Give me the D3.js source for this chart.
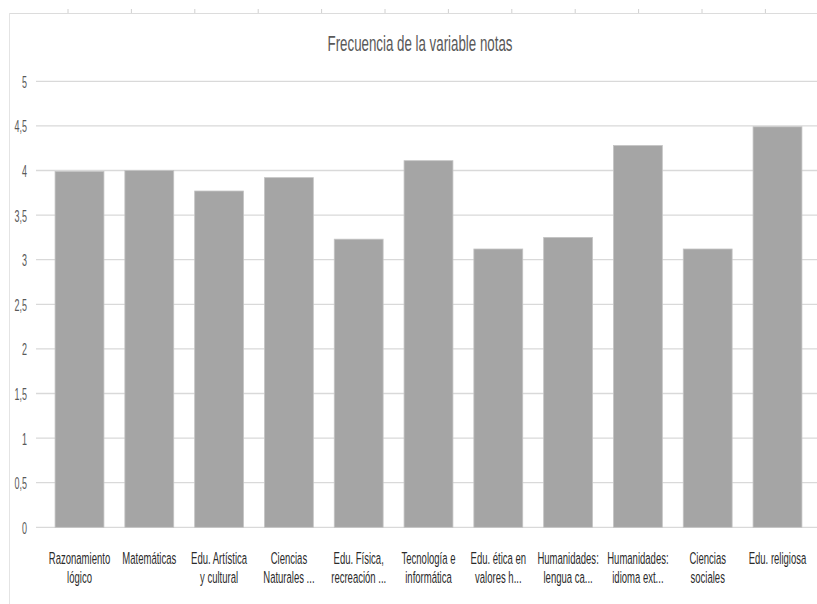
<!DOCTYPE html>
<html><head><meta charset="utf-8">
<script src="https://cdn.jsdelivr.net/npm/d3@7"></script>
<style>
body{margin:0;background:#fff}
text{font-family:"Liberation Sans",Arial,sans-serif}
</style>
</head><body><svg id="c" width="817" height="604"></svg>
<script>
const title = "Frecuencia de la variable notas";
const categories = ["Razonamiento lógico","Matemáticas","Edu. Artística y cultural","Ciencias Naturales ...","Edu. Física, recreación ...","Tecnología e informática","Edu. ética en valores h...","Humanidades: lengua ca...","Humanidades: idioma ext...","Ciencias sociales","Edu. religiosa"];
const labelLines = [["Razonamiento","lógico"],["Matemáticas"],["Edu. Artística","y cultural"],["Ciencias","Naturales ..."],["Edu. Física,","recreación ..."],["Tecnología e","informática"],["Edu. ética en","valores h..."],["Humanidades:","lengua ca..."],["Humanidades:","idioma ext..."],["Ciencias","sociales"],["Edu. religiosa"]];
const values = [3.99,4.00,3.77,3.92,3.23,4.11,3.12,3.25,4.28,3.12,4.49];
const yTicks = [0,0.5,1,1.5,2,2.5,3,3.5,4,4.5,5];
const fmt = d => String(d).replace(".", ",");

const SQ = 0.56; // horizontal squash of the reference picture
const svg = d3.select("#c");
const y = d3.scaleLinear().domain([0,5]).range([527.3,81.3]);
const x = d3.scaleBand().domain(categories).range([44.6,812.4]).paddingInner(0.3).paddingOuter(0.15);

// frame (sheet border)
svg.append("line").attr("x1",9).attr("x2",817).attr("y1",13.5).attr("y2",13.5).attr("stroke","#dcdcdc").attr("stroke-width",1.2);
svg.append("line").attr("x1",9.5).attr("x2",9.5).attr("y1",13).attr("y2",604).attr("stroke","#e4e4e4").attr("stroke-width",1);
svg.selectAll("line.tk").data(d3.range(68,817,63.4)).enter().append("line")
  .attr("x1",d=>d).attr("x2",d=>d).attr("y1",9).attr("y2",13).attr("stroke","#d0d0d0");

// gridlines
svg.append("g").selectAll("line").data(yTicks).enter().append("line")
  .attr("x1",36).attr("x2",817).attr("y1",d=>y(d)).attr("y2",d=>y(d))
  .attr("stroke","#d9d9d9").attr("stroke-width",1.3);

// y labels
svg.append("g").selectAll("text").data(yTicks).enter().append("text")
  .attr("transform",d=>`translate(27,${y(d)+6.5}) scale(${SQ},1)`)
  .attr("text-anchor","end").attr("font-size",16).attr("fill","#595959").text(fmt);

// bars
svg.append("g").selectAll("rect").data(values).enter().append("rect")
  .attr("x",(d,i)=>x(categories[i])).attr("width",x.bandwidth())
  .attr("y",d=>y(d)).attr("height",d=>y(0)-y(d))
  .attr("fill","#a5a5a5").attr("stroke","#c4c4c4").attr("stroke-width",0.8);

// x labels
const xl = svg.append("g").selectAll("text").data(labelLines).enter().append("text")
  .attr("transform",(d,i)=>`translate(${x(categories[i]) + x.bandwidth()/2},0) scale(${SQ},1)`)
  .attr("text-anchor","middle").attr("font-size",17).attr("fill","#2b2b2b");
xl.each(function(lines){
  d3.select(this).selectAll("tspan").data(lines).enter().append("tspan")
    .attr("x",0).attr("y",(l,j)=>564 + j*19).text(l=>l);
});

// title
svg.append("text").attr("transform",`translate(420,51) scale(0.605,1)`).attr("text-anchor","middle")
  .attr("font-size",22).attr("fill","#595959").text(title);
</script>
</body></html>
